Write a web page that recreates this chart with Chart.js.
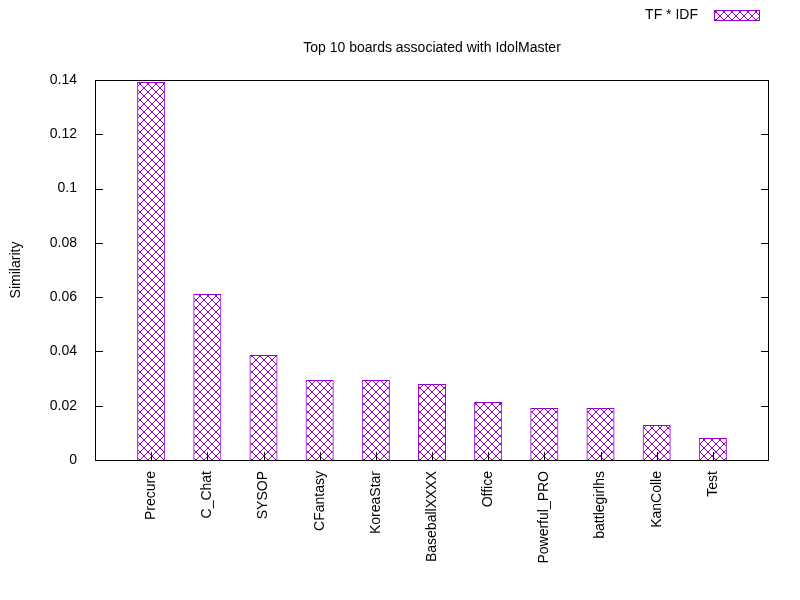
<!DOCTYPE html>
<html><head><meta charset="utf-8">
<script src="https://cdn.jsdelivr.net/npm/chart.js@4"></script>
<style>body{margin:0;background:#fff}</style>
</head><body><canvas id="c" width="800" height="600"></canvas>
<script>
const boards = ['Precure','C_Chat','SYSOP','CFantasy','KoreaStar','BaseballXXXX','Office','Powerful_PRO','battlegirlhs','KanColle','Test'];
const similarity = [0.1393,0.0612,0.0387,0.0295,0.0295,0.028,0.0214,0.0192,0.0192,0.0129,0.0081];
const yTicks = [0,0.02,0.04,0.06,0.08,0.1,0.12,0.14];

const purple = '#9400d3';
function hatch() {
  const p = document.createElement('canvas');
  p.width = 8; p.height = 8;
  const g = p.getContext('2d');
  g.strokeStyle = purple; g.lineWidth = 1;
  g.beginPath();
  g.moveTo(0,0); g.lineTo(8,8);
  g.moveTo(8,0); g.lineTo(0,8);
  g.stroke();
  return g.createPattern(p, 'repeat');
}
const pat = hatch();
const font = "'Liberation Sans', Arial, sans-serif";

const deco = {
  id: 'deco',
  afterDraw(ch) {
    const c = ch.ctx, a = ch.chartArea, y = ch.scales.y, x = ch.scales.x;
    c.save();
    c.strokeStyle = '#000'; c.lineWidth = 1;
    c.strokeRect(a.left + 0.5, a.top + 0.5, a.right - a.left - 1, a.bottom - a.top);
    c.beginPath();
    yTicks.forEach(v => {
      const py = Math.round(y.getPixelForValue(v)) + 0.5;
      c.moveTo(a.left, py); c.lineTo(a.left + 8, py);
      c.moveTo(a.right, py); c.lineTo(a.right - 8, py);
    });
    boards.forEach((b, i) => {
      const px = Math.round(x.getPixelForValue(i + 1)) + 0.5;
      c.moveTo(px, a.bottom); c.lineTo(px, a.bottom - 8);
    });
    c.stroke();
    c.fillStyle = '#000';
    c.font = '14px ' + font;
    c.textAlign = 'center'; c.textBaseline = 'middle';
    c.fillText('Top 10 boards associated with IdolMaster', 432, 48);
    c.textAlign = 'right';
    c.fillText('TF * IDF', 698, 15);
    c.fillStyle = pat; c.fillRect(714, 10, 45, 10);
    c.strokeStyle = purple; c.strokeRect(714.5, 10.5, 45, 10);
    c.fillStyle = '#000';
    c.translate(16, 270); c.rotate(-Math.PI / 2);
    c.textAlign = 'center';
    c.fillText('Similarity', 0, 0);
    c.restore();
  }
};

new Chart(document.getElementById('c'), {
  type: 'bar',
  data: {
    labels: [''].concat(boards, ['']),
    datasets: [{
      label: 'TF * IDF',
      data: [null].concat(similarity, [null]),
      backgroundColor: pat,
      borderColor: purple,
      borderWidth: 1,
      barPercentage: 0.5,
      categoryPercentage: 1
    }]
  },
  options: {
    responsive: false, animation: false,
    layout: { padding: { top: 80, right: 31, left: 0, bottom: 0 } },
    plugins: { legend: { display: false }, title: { display: false }, tooltip: { enabled: false } },
    scales: {
      x: {
        offset: false,
        grid: { display: false, offset: false },
        border: { display: false },
        ticks: { color: '#000', font: { family: font, size: 14 }, minRotation: 90, maxRotation: 90, autoSkip: false },
        afterFit: s => { s.height = 140; }
      },
      y: {
        min: 0, max: 0.14,
        grid: { display: false },
        border: { display: false },
        afterBuildTicks: s => { s.ticks = yTicks.map(v => ({ value: v })); },
        ticks: { color: '#000', font: { family: font, size: 14 }, padding: 10, callback: v => String(+v.toFixed(2)) },
        afterFit: s => { s.width = 95; }
      }
    }
  },
  plugins: [deco]
});
</script></body></html>
